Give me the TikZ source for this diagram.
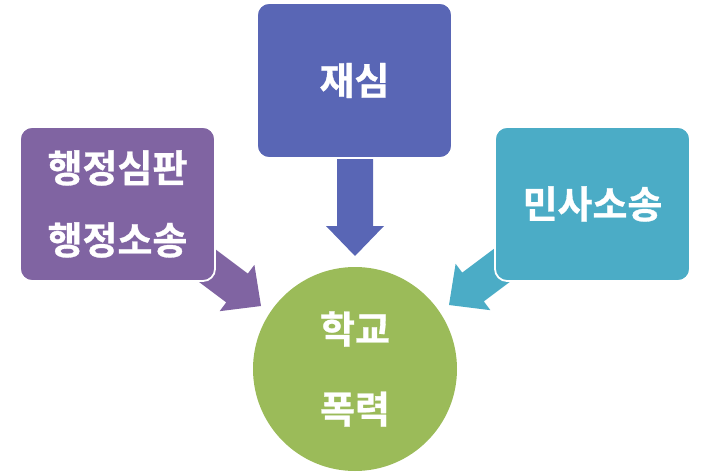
\documentclass[tikz,border=0pt]{standalone}
\usepackage{fontspec}
\newfontfamily\krfont[FakeBold=0.8]{Noto Sans CJK KR Bold}
\definecolor{cTop}{RGB}{89,102,181}
\definecolor{cLeft}{RGB}{128,100,162}
\definecolor{cRight}{RGB}{75,172,198}
\definecolor{cGreen}{RGB}{155,187,89}
\tikzset{
  boxnode/.style={rectangle, rounded corners=12pt, draw=white, line width=1.8pt,
    minimum width=195pt, minimum height=155pt, inner sep=0pt, text=white, align=center},
  circnode/.style={circle, fill=cGreen, minimum size=204pt, inner sep=0pt, text=white, align=center}
}
\newcommand\myblockarrow[3]{%
  \fill[#1, shift={(#2)}, rotate=#3] (0,0) -- (-30,29) -- (-30,18) -- (-100,18) -- (-100,-18) -- (-30,-18) -- (-30,-29) -- cycle;}
\begin{document}
\begin{tikzpicture}[x=1pt, y=-1pt]
\useasboundingbox (0,0) rectangle (710,476);
% circle
\node[circnode, font=\krfont\fontsize{38}{80}\selectfont] (circ) at (355,369) {학교\\폭력};
% arrow tips
\coordinate (tipT) at (355,256);
\coordinate (tipL) at (261,306);
\coordinate (tipR) at (449,305);
\myblockarrow{cTop}{tipT}{-90}
\myblockarrow{cLeft}{tipL}{-36.87}
\myblockarrow{cRight}{tipR}{216.87}
% boxes
\node[boxnode, fill=cTop, font=\krfont\fontsize{38}{44}\selectfont] (top) at (354.5,80.5) {재심};
\node[boxnode, fill=cLeft, minimum height=154pt, font=\krfont\fontsize{38}{72}\selectfont] (left) at (117.5,204) {행정심판\\행정소송};
\node[boxnode, fill=cRight, minimum height=154pt, font=\krfont\fontsize{38}{44}\selectfont] (right) at (592.5,204) {민사소송};
\end{tikzpicture}
\end{document}
